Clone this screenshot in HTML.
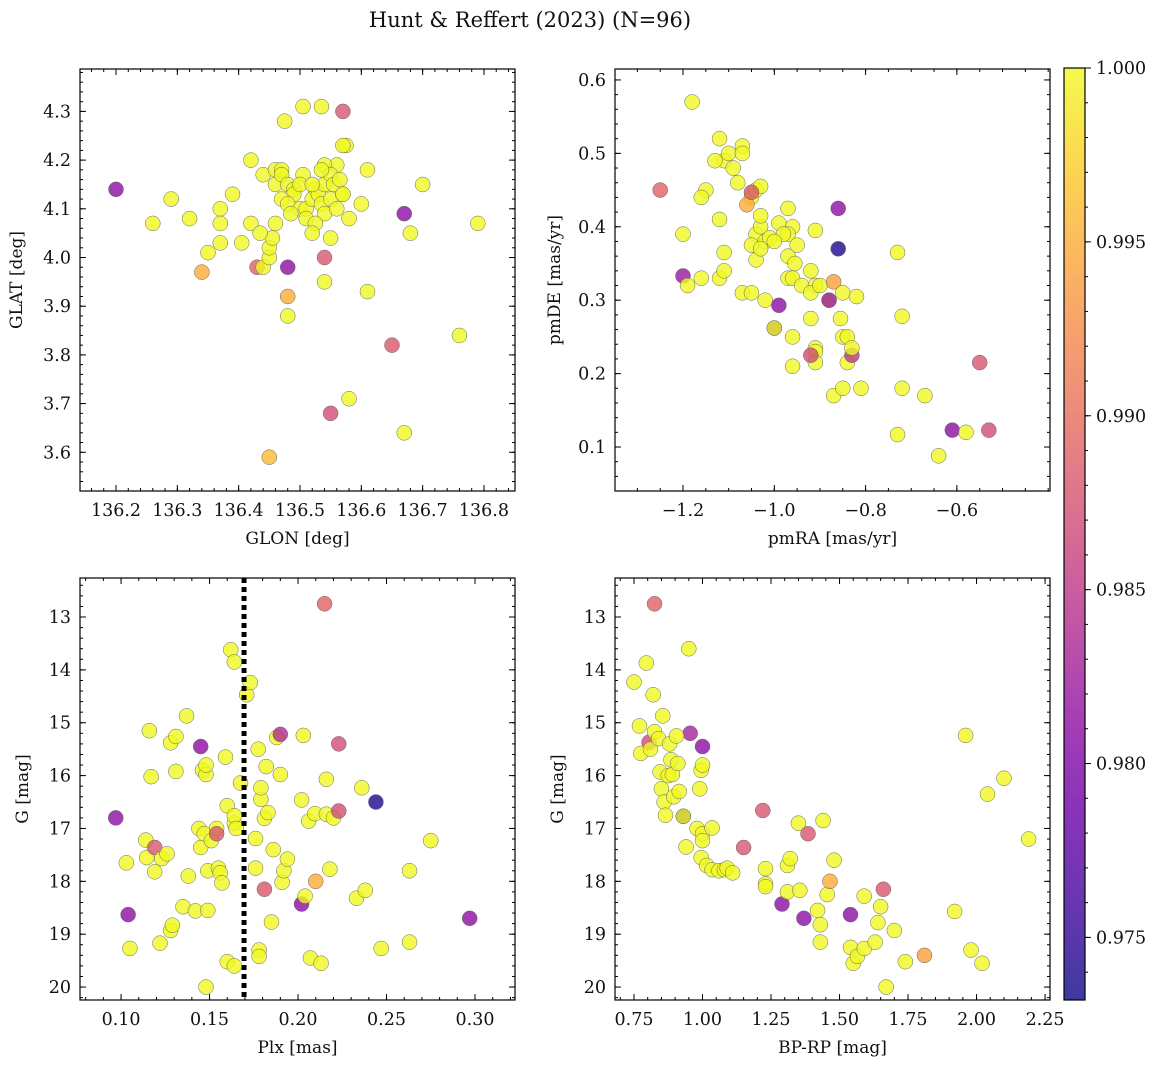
<!DOCTYPE html>
<html><head><meta charset="utf-8">
<style>
html,body{margin:0;padding:0;background:#fff;}
svg text{font-family:"DejaVu Serif","Liberation Serif",serif;fill:#111;}
</style></head>
<body>
<svg id="fig" width="1161" height="1068" xmlns="http://www.w3.org/2000/svg">
<defs>
<linearGradient id="plasma" x1="0" y1="1" x2="0" y2="0">
<stop offset="0" stop-color="#0d0887"/><stop offset="0.1" stop-color="#41049d"/><stop offset="0.2" stop-color="#6a00a8"/><stop offset="0.3" stop-color="#8f0da4"/><stop offset="0.4" stop-color="#b12a90"/><stop offset="0.5" stop-color="#cc4778"/><stop offset="0.6" stop-color="#e16462"/><stop offset="0.7" stop-color="#f2844b"/><stop offset="0.8" stop-color="#fca636"/><stop offset="0.9" stop-color="#fcce25"/><stop offset="1" stop-color="#f0f921"/>
</linearGradient>
</defs>
<text x="530" y="27" font-size="21" text-anchor="middle">Hunt &amp; Reffert (2023) (N=96)</text>
</svg>
<script>
// ---- Panel 1: GLON / GLAT ----
const glon = [136.20,136.26,136.29,136.32,136.35,136.37,136.37,136.34,136.37,136.39,136.405,136.42,136.42,136.44,136.43,136.44,136.45,136.45,136.455,136.435,136.46,136.46,136.46,136.47,136.47,136.475,136.505,136.535,136.57,136.575,136.57,136.56,136.54,136.48,136.48,136.48,136.54,136.54,136.45,136.55,136.58,136.61,136.61,136.60,136.65,136.67,136.68,136.70,136.67,136.76,136.79,136.48,136.49,136.49,136.47,136.48,136.50,136.51,136.51,136.525,136.52,136.53,136.535,136.54,136.54,136.55,136.55,136.555,136.56,136.565,136.57,136.535,136.505,136.50,136.52,136.485,136.525,136.52,136.55,136.57,136.58];
const glat = [4.14,4.07,4.12,4.08,4.01,4.10,4.07,3.97,4.03,4.13,4.03,4.20,4.07,4.17,3.98,3.98,4.00,4.02,4.04,4.05,4.07,4.15,4.18,4.18,4.17,4.28,4.31,4.31,4.30,4.23,4.23,4.19,4.19,3.98,3.92,3.88,4.00,3.95,3.59,3.68,3.71,3.93,4.18,4.11,3.82,4.09,4.05,4.15,3.64,3.84,4.07,4.15,4.14,4.13,4.12,4.11,4.10,4.10,4.08,4.14,4.12,4.13,4.11,4.09,4.15,4.12,4.17,4.15,4.10,4.16,4.13,4.18,4.17,4.15,4.15,4.09,4.07,4.05,4.04,4.13,4.08];
const c1 = [0.981,1,1,1,1,1,1,0.995,1,1,1,1,1,1,0.989,1,1,1,1,1,1,1,1,1,1,1,1,1,0.988,1,1,1,1,0.981,0.995,1,0.988,1,0.996,0.987,1,1,1,1,0.988,0.981,1,1,1,1,1,1,1,1,1,1,1,1,1,1,1,1,1,1,1,1,1,1,1,1,1,1,1,1,1,1,1,1,1,1,1];
const ticks1x = [136.2,136.3,136.4,136.5,136.6,136.7,136.8];
const ticks1y = [3.6,3.7,3.8,3.9,4.0,4.1,4.2,4.3];
// ---- Panel 2: pmRA / pmDE ----
const pmra = [-1.25,-1.18,-1.12,-1.11,-1.10,-1.13,-1.15,-1.16,-1.07,-1.07,-1.08,-1.09,-1.05,-1.04,-1.03,-1.06,-1.20,-1.12,-1.11,-1.20,-1.19,-1.16,-1.12,-1.11,-1.07,-1.05,-1.04,-1.04,-1.03,-1.03,-1.02,-1.01,-0.99,-0.97,-0.96,-0.97,-0.98,-1.00,-1.05,-1.03,-0.97,-0.97,-0.96,-0.955,-0.95,-0.94,-0.92,-0.91,-0.92,-0.90,-0.91,-0.88,-0.87,-0.88,-0.86,-0.86,-1.05,-1.02,-0.99,-1.00,-1.00,-0.96,-0.96,-0.92,-0.91,-0.91,-0.91,-0.92,-0.87,-0.85,-0.855,-0.85,-0.84,-0.84,-0.83,-0.83,-0.82,-0.81,-0.85,-0.73,-0.72,-0.72,-0.73,-0.67,-0.64,-0.61,-0.58,-0.55,-0.53];
const pmde = [0.45,0.57,0.52,0.49,0.50,0.49,0.45,0.44,0.51,0.50,0.46,0.48,0.44,0.45,0.455,0.43,0.39,0.41,0.365,0.333,0.32,0.33,0.33,0.34,0.31,0.31,0.355,0.39,0.40,0.415,0.38,0.385,0.405,0.425,0.40,0.39,0.39,0.38,0.375,0.37,0.36,0.33,0.33,0.35,0.375,0.32,0.34,0.32,0.31,0.32,0.395,0.30,0.325,0.30,0.37,0.425,0.447,0.30,0.293,0.262,0.262,0.25,0.21,0.275,0.235,0.23,0.215,0.225,0.17,0.31,0.275,0.25,0.25,0.215,0.225,0.235,0.305,0.18,0.18,0.365,0.278,0.18,0.117,0.17,0.088,0.123,0.12,0.215,0.123];
const c2 = [0.989,1,1,1,1,1,1,1,1,1,1,1,1,1,1,0.995,1,1,1,0.982,1,1,1,1,1,1,1,1,1,1,1,1,1,1,1,1,1,1,1,1,1,1,1,1,1,1,1,1,1,1,1,1,0.994,0.982,0.974,0.981,0.988,1,0.981,0.979,1,1,1,1,1,1,1,0.987,1,1,1,1,1,1,0.985,1,1,1,1,1,1,1,1,1,1,0.981,1,0.988,0.987];
const ticks2x = [-1.2,-1.0,-0.8,-0.6];
const ticks2y = [0.1,0.2,0.3,0.4,0.5,0.6];
// ---- Panel 3: Plx / G ----
const plx = [0.097,0.103,0.104,0.105,0.114,0.1145,0.116,0.117,0.119,0.119,0.122,0.123,0.126,0.128,0.128,0.129,0.131,0.131,0.135,0.138,0.137,0.142,0.144,0.145,0.145,0.147,0.146,0.148,0.148,0.148,0.149,0.149,0.151,0.154,0.154,0.155,0.156,0.157,0.159,0.16,0.16,0.162,0.164,0.164,0.164,0.164,0.165,0.1675,0.171,0.173,0.176,0.176,0.1775,0.178,0.178,0.179,0.179,0.181,0.181,0.182,0.183,0.185,0.186,0.188,0.190,0.190,0.191,0.192,0.194,0.203,0.202,0.202,0.204,0.206,0.207,0.2095,0.21,0.213,0.215,0.216,0.216,0.218,0.22,0.223,0.223,0.233,0.236,0.238,0.244,0.247,0.263,0.263,0.275,0.297];
const gmag3 = [16.8,17.65,18.63,19.27,17.22,17.55,15.15,16.02,17.36,17.82,19.17,17.57,17.48,15.38,18.93,18.83,15.26,15.92,18.48,17.9,14.87,18.56,17.0,17.36,15.45,17.1,15.9,15.98,15.8,20.0,18.55,17.8,17.23,17.0,17.1,17.75,17.84,18.03,15.65,16.57,19.52,13.62,13.85,19.6,16.9,16.76,17.0,16.14,14.47,14.24,17.19,17.75,15.5,19.3,19.42,16.45,16.23,18.15,16.81,15.83,16.7,18.77,17.4,15.28,15.22,15.98,18.02,17.8,17.58,15.24,16.46,18.43,18.28,16.86,19.45,16.72,18.0,19.55,12.75,16.73,16.07,17.77,16.8,15.4,16.67,18.32,16.23,18.17,16.5,19.27,17.8,19.15,17.23,18.7];
const c3 = [0.981,1,0.981,1,1,1,1,1,0.988,1,1,1,1,1,1,1,1,1,1,1,1,1,1,1,0.981,1,1,1,1,1,1,1,1,1,0.988,1,1,1,1,1,1,1,1,1,1,1,1,1,1,1,1,1,1,1,1,1,1,0.988,1,1,1,1,1,1,0.984,1,1,1,1,1,1,0.981,1,1,1,1,0.995,1,0.989,1,1,1,1,0.987,0.987,1,1,1,0.974,1,1,1,1,0.981];
const ticks3x = [0.10,0.15,0.20,0.25,0.30];
const ticksG = [13,14,15,16,17,18,19,20];
const plxCut = [0.1695];
// ---- Panel 4: BP-RP / G ----
const bprp = [0.75,0.77,0.775,0.795,0.805,0.81,0.82,0.825,0.825,0.84,0.845,0.85,0.855,0.955,0.86,0.865,0.875,0.88,0.885,0.89,0.895,0.905,0.91,0.915,0.93,0.93,0.94,0.95,0.98,0.99,0.995,1.0,1.0,1.0,1.0,0.995,1.015,1.035,1.035,1.06,1.08,1.09,1.11,1.15,1.22,1.23,1.23,1.23,1.29,1.31,1.32,1.31,1.35,1.355,1.37,1.385,1.42,1.43,1.43,1.44,1.455,1.465,1.48,1.54,1.54,1.55,1.565,1.59,1.59,1.63,1.64,1.65,1.66,1.67,1.70,1.74,1.81,1.92,1.96,1.98,2.02,2.04,2.10,2.19];
const gmag4 = [14.23,15.06,15.58,13.87,15.37,15.5,14.47,12.75,15.17,15.3,15.93,16.25,14.87,15.2,16.5,16.75,16.0,15.4,15.7,15.98,16.4,15.25,15.77,16.3,16.77,16.77,17.35,13.6,17.0,16.25,15.9,15.45,15.8,17.1,17.23,17.55,17.7,16.99,17.78,17.8,17.78,17.75,17.84,17.36,16.66,17.76,18.05,18.1,18.43,17.7,17.57,18.2,16.9,18.17,18.7,17.1,18.55,19.15,18.82,16.85,18.25,18.0,17.6,18.63,19.25,19.55,19.42,19.27,18.28,19.15,18.78,18.48,18.15,20.0,18.93,19.52,19.4,18.57,15.24,19.3,19.55,16.35,16.05,17.2];
const c4 = [1,1,1,1,0.987,1,1,0.989,1,1,1,1,1,0.983,1,1,1,1,1,1,1,1,1,1,0.976,1,1,1,1,1,1,0.981,1,1,1,1,1,1,1,1,1,1,1,0.988,0.988,1,1,1,0.981,1,1,1,1,1,0.981,0.988,1,1,1,1,1,0.995,1,0.981,1,1,1,1,1,1,1,1,0.988,1,1,1,0.994,1,1,1,1,1,1,1];
const ticks4x = [0.75,1.00,1.25,1.50,1.75,2.00,2.25];
const cbTicks = [0.975,0.980,0.985,0.990,0.995,1.000];
const cMin = 0.9732, cMax = 1.0;

const NS = 'http://www.w3.org/2000/svg';
const svg = document.getElementById('fig');
function mk(tag, attrs, parent){
  const e = document.createElementNS(NS, tag);
  for (const k in attrs) e.setAttribute(k, attrs[k]);
  (parent||svg).appendChild(e);
  return e;
}
const stops = [[13,8,135],[65,4,157],[106,0,168],[143,13,164],[177,42,144],[204,71,120],[225,100,98],[242,132,75],[252,166,54],[252,206,37],[240,249,33]];
function plasma(c){
  let t = (c - cMin) / (cMax - cMin); t = Math.max(0, Math.min(1, t));
  const f = t * 10, i = Math.min(9, Math.floor(f)), r = f - i;
  const a = stops[i], b = stops[i+1];
  return 'rgb(' + [0,1,2].map(k => Math.round(a[k] + (b[k]-a[k])*r)).join(',') + ')';
}
function lin(d0,d1,p0,p1){ return v => p0 + (v-d0)/(d1-d0)*(p1-p0); }
function fmt(v, dec){ return v < 0 ? '\u2212' + Math.abs(v).toFixed(dec) : v.toFixed(dec); }

function panel(name, box, xd, yd, xt, yt, xdec, ydec, xminor, yminor, xs, ys, cs, xlabel, ylabel, ylabX){
  const g = mk('g', {});
  
  
  const X = lin(xd[0], xd[1], box.x0, box.x1), Y = lin(yd[0], yd[1], box.y0, box.y1);
  const pts = mk('g', {}, g);
  
  
  for (let i = 0; i < xs.length; i++){
    const p = mk('circle', {cx: X(xs[i]), cy: Y(ys[i]), r: 7.5, fill: plasma(cs[i]), 'fill-opacity': 0.8, stroke: '#666', 'stroke-width': 0.5}, pts);
    
    
  }
  const fr = mk('rect', {x: box.x0, y: Math.min(box.y0, box.y1), width: box.x1 - box.x0, height: Math.abs(box.y1 - box.y0), fill: 'none', stroke: '#000', 'stroke-width': 1.2}, g);
  
  
  const top = Math.min(box.y0, box.y1), bot = Math.max(box.y0, box.y1);
  const xlo = Math.min(xd[0], xd[1]), xhi = Math.max(xd[0], xd[1]);
  const ylo = Math.min(yd[0], yd[1]), yhi = Math.max(yd[0], yd[1]);
  const tk = mk('g', {stroke: '#000', 'stroke-width': 1}, g);
  
  
  const startX = Math.ceil(xlo / xminor - 1e-6);
  for (let k = startX; k * xminor <= xhi + 1e-9; k++){
    const px = X(k * xminor);
    mk('line', {x1: px, x2: px, y1: bot, y2: bot - 3}, tk);
    mk('line', {x1: px, x2: px, y1: top, y2: top + 3}, tk);
  }
  const startY = Math.ceil(ylo / yminor - 1e-6);
  for (let k = startY; k * yminor <= yhi + 1e-9; k++){
    const py = Y(k * yminor);
    mk('line', {x1: box.x0, x2: box.x0 + 3, y1: py, y2: py}, tk);
    mk('line', {x1: box.x1, x2: box.x1 - 3, y1: py, y2: py}, tk);
  }
  xt.forEach(v => {
    const px = X(v);
    mk('line', {x1: px, x2: px, y1: bot, y2: bot - 6}, tk);
    mk('line', {x1: px, x2: px, y1: top, y2: top + 6}, tk);
    const t = mk('text', {x: px, y: bot + 25, 'font-size': 17.5, 'text-anchor': 'middle'}, g);
    t.textContent = fmt(v, xdec);
    
    
  });
  yt.forEach(v => {
    const py = Y(v);
    mk('line', {x1: box.x0, x2: box.x0 + 6, y1: py, y2: py}, tk);
    mk('line', {x1: box.x1, x2: box.x1 - 6, y1: py, y2: py}, tk);
    const t = mk('text', {x: box.x0 - 9, y: py + 6, 'font-size': 17.5, 'text-anchor': 'end'}, g);
    t.textContent = fmt(v, ydec);
    
    
  });
  const xl = mk('text', {x: (box.x0 + box.x1) / 2, y: bot + 53, 'font-size': 17, 'text-anchor': 'middle'}, g);
  xl.textContent = xlabel;
  
  
  const cy = (top + bot) / 2;
  const yl = mk('text', {x: ylabX, y: cy, 'font-size': 17, 'text-anchor': 'middle', transform: 'rotate(-90 ' + ylabX + ' ' + cy + ')'}, g);
  yl.textContent = ylabel;
  
  
  return {X, Y, g, top, bot};
}

panel('glon-glat-panel', {x0: 80, x1: 515, y0: 491, y1: 69}, [136.1413, 136.8506], [3.5205, 4.3871], ticks1x, ticks1y, 1, 1, 0.02, 0.02, glon, glat, c1, 'GLON [deg]', 'GLAT [deg]', 22);
panel('pm-panel', {x0: 615, x1: 1050, y0: 491, y1: 69}, [-1.349, -0.396], [0.0401, 0.6149], ticks2x, ticks2y, 1, 1, 0.05, 0.02, pmra, pmde, c2, 'pmRA [mas/yr]', 'pmDE [mas/yr]', 560);
const p3 = panel('plx-g-panel', {x0: 80, x1: 515, y0: 578, y1: 1000}, [0.0768, 0.3226], [12.262, 20.245], ticks3x, ticksG, 2, 0, 0.01, 0.2, plx, gmag3, c3, 'Plx [mas]', 'G [mag]', 28);
plxCut.forEach(v => {
  const l = mk('line', {x1: p3.X(v), x2: p3.X(v), y1: p3.top, y2: p3.bot, stroke: '#000', 'stroke-width': 5, 'stroke-dasharray': '5,4'}, p3.g);
  
  
});
panel('cmd-panel', {x0: 615, x1: 1050, y0: 578, y1: 1000}, [0.6807, 2.268], [12.262, 20.245], ticks4x, ticksG, 2, 0, 0.05, 0.2, bprp, gmag4, c4, 'BP-RP [mag]', 'G [mag]', 563);

// ---- Colorbar ----
const cb = mk('g', {});


const cbY = lin(cMin, cMax, 1000, 68);
mk('rect', {x: 1064, y: 68, width: 21, height: 932, fill: 'url(#plasma)', 'fill-opacity': 0.8}, cb);
mk('rect', {x: 1064, y: 68, width: 21, height: 932, fill: 'none', stroke: '#000', 'stroke-width': 1.2}, cb);
for (let k = Math.ceil(cMin / 0.001); k <= 1000; k++){
  const v = k * 0.001;
  mk('line', {x1: 1085, x2: 1088, y1: cbY(v), y2: cbY(v), stroke: '#000'}, cb);
}
cbTicks.forEach(v => {
  mk('line', {x1: 1085, x2: 1091, y1: cbY(v), y2: cbY(v), stroke: '#000'}, cb);
  const t = mk('text', {x: 1096, y: cbY(v) + 6, 'font-size': 17.5}, cb);
  t.textContent = v.toFixed(3);
  
  
});
</script>
</body></html>
